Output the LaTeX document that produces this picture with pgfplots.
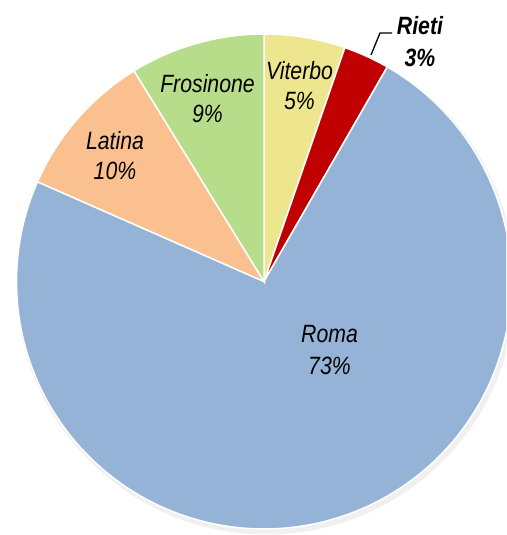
\documentclass[border=0pt]{standalone}
\usepackage{pgfplots}
\pgfplotsset{compat=1.18}
\usepackage{fontspec}
\setmainfont{Liberation Sans}[FakeStretch=0.85]
\definecolor{cRoma}{HTML}{95B3D7}
\definecolor{cLatina}{HTML}{FAC090}
\definecolor{cFros}{HTML}{B7DD8B}
\definecolor{cVit}{HTML}{EDE68E}
\definecolor{cRieti}{HTML}{C00000}
\newcommand\lf{\fontsize{25}{30}\selectfont\itshape}
\newcommand\lfb{\fontsize{25}{30}\selectfont\bfseries\itshape}
\begin{document}
\begin{tikzpicture}
\useasboundingbox (0,0) rectangle (506pt,535pt);
\clip (0,0) rectangle (506pt,535pt);
\begin{axis}[
  at={(0,0)}, anchor=south west,
  hide axis, scale only axis,
  width=506pt, height=535pt,
  xmin=-264, xmax=242, ymin=-253.5, ymax=281.5,
  clip=true,
]
% shadow
\fill[black!16] (axis cs:1.5,-2.5) circle[radius=249pt];
\fill[black!6] (axis cs:2.5,-4) circle[radius=249pt];
% slices: shares Viterbo 5.3, Rieti 3.0, Roma 73.3, Latina 9.6, Frosinone 8.8 (% clockwise from top)
\addplot[fill=cVit, draw=white, line width=1.5pt, domain=70.92:90, samples=40, data cs=polar] ({x},{247.5}) -- (axis cs:0,0) -- cycle;
\addplot[fill=cRieti, draw=white, line width=1.5pt, domain=60.12:70.92, samples=30, data cs=polar] ({x},{247.5}) -- (axis cs:0,0) -- cycle;
\addplot[fill=cRoma, draw=white, line width=1.5pt, domain=-203.76:60.12, samples=240, data cs=polar] ({x},{247.5}) -- (axis cs:0,0) -- cycle;
\addplot[fill=cLatina, draw=white, line width=1.5pt, domain=-238.32:-203.76, samples=40, data cs=polar] ({x},{247.5}) -- (axis cs:0,0) -- cycle;
\addplot[fill=cFros, draw=white, line width=1.5pt, domain=-270:-238.32, samples=40, data cs=polar] ({x},{247.5}) -- (axis cs:0,0) -- cycle;
% labels
\node[anchor=base, font=\lf] at (axis cs:35.5,201.5) {Viterbo};
\node[anchor=base, font=\lf] at (axis cs:35.5,171.5) {5\%};
\node[anchor=base, font=\lfb] at (axis cs:156,246.5) {Rieti};
\node[anchor=base, font=\lfb] at (axis cs:156,214.5) {3\%};
\node[anchor=base, font=\lf] at (axis cs:-56.5,188.5) {Frosinone};
\node[anchor=base, font=\lf] at (axis cs:-56.5,158.5) {9\%};
\node[anchor=base, font=\lf] at (axis cs:-149,131.5) {Latina};
\node[anchor=base, font=\lf] at (axis cs:-149,101.5) {10\%};
\node[anchor=base, font=\lf] at (axis cs:65.5,-61.5) {Roma};
\node[anchor=base, font=\lf] at (axis cs:65.5,-93.5) {73\%};
\draw[black, line width=1.3pt] (axis cs:107,226.5) -- (axis cs:116,248.5) -- (axis cs:128,248.5);
\end{axis}
\end{tikzpicture}
\end{document}
